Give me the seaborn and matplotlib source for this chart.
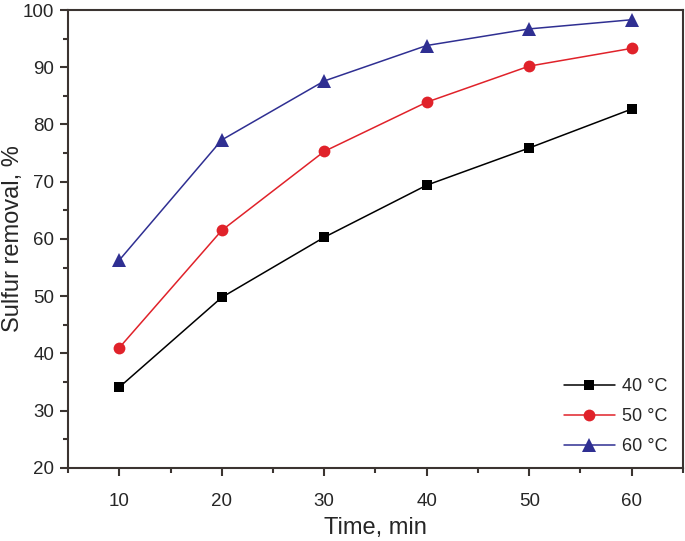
import matplotlib
matplotlib.use("Agg")
import matplotlib.pyplot as plt
import seaborn as sns
import pandas as pd
from matplotlib.ticker import MultipleLocator

# Data
time_min = [10, 20, 30, 40, 50, 60]
removal_40 = [34.1, 49.8, 60.3, 69.4, 75.9, 82.7]
removal_50 = [41.0, 61.5, 75.3, 83.9, 90.2, 93.3]
removal_60 = [56.3, 77.3, 87.6, 93.8, 96.7, 98.3]
labels = ["40 °C", "50 °C", "60 °C"]

df = pd.DataFrame({
    "time": time_min * 3,
    "removal": removal_40 + removal_50 + removal_60,
    "temp": [labels[0]] * 6 + [labels[1]] * 6 + [labels[2]] * 6,
})

sns.set_style("white")
plt.rcParams["font.family"] = ["Liberation Sans", "DejaVu Sans"]

fig = plt.figure(figsize=(6.85, 5.41), dpi=100)
ax = fig.add_axes([0.0993, 0.135, 0.8977, 0.8465])

palette = {labels[0]: "#000000", labels[1]: "#e0222a", labels[2]: "#2f2f92"}
markers = {labels[0]: "s", labels[1]: "o", labels[2]: "^"}
sizes = {labels[0]: 7.5, labels[1]: 8.5, labels[2]: 10}

for lab in labels:
    sub = df[df["temp"] == lab]
    sns.lineplot(data=sub, x="time", y="removal", ax=ax, color=palette[lab],
                 marker=markers[lab], markersize=sizes[lab], markeredgewidth=0,
                 linewidth=1.1, label=lab)

ax.set_xlim(5, 65)
ax.set_ylim(20, 100)
ax.xaxis.set_major_locator(MultipleLocator(10))
ax.xaxis.set_minor_locator(MultipleLocator(5))
ax.yaxis.set_major_locator(MultipleLocator(10))
ax.yaxis.set_minor_locator(MultipleLocator(5))

spine_color = "#3b3431"
for s in ax.spines.values():
    s.set_color(spine_color)
    s.set_linewidth(1.5)
ax.tick_params(which="major", direction="out", length=6, width=1.5, color=spine_color,
               labelsize=13.5, bottom=True, left=True, pad=12)
ax.tick_params(which="minor", direction="out", length=3.5, width=1.5, color=spine_color,
               bottom=True, left=True)
ax.tick_params(axis="y", which="major", pad=4)

ax.set_xlabel("Time, min", fontsize=17, labelpad=5)
ax.set_ylabel("Sulfur removal, %", fontsize=17)
ax.yaxis.set_label_coords(-0.072, 0.5)

leg = ax.legend(loc="lower right", frameon=False, fontsize=13, handlelength=2.8,
                handletextpad=0.4, labelspacing=0.72, borderaxespad=0.3,
                bbox_to_anchor=(0.995, 0.0))

plt.savefig("out.png", dpi=100)
